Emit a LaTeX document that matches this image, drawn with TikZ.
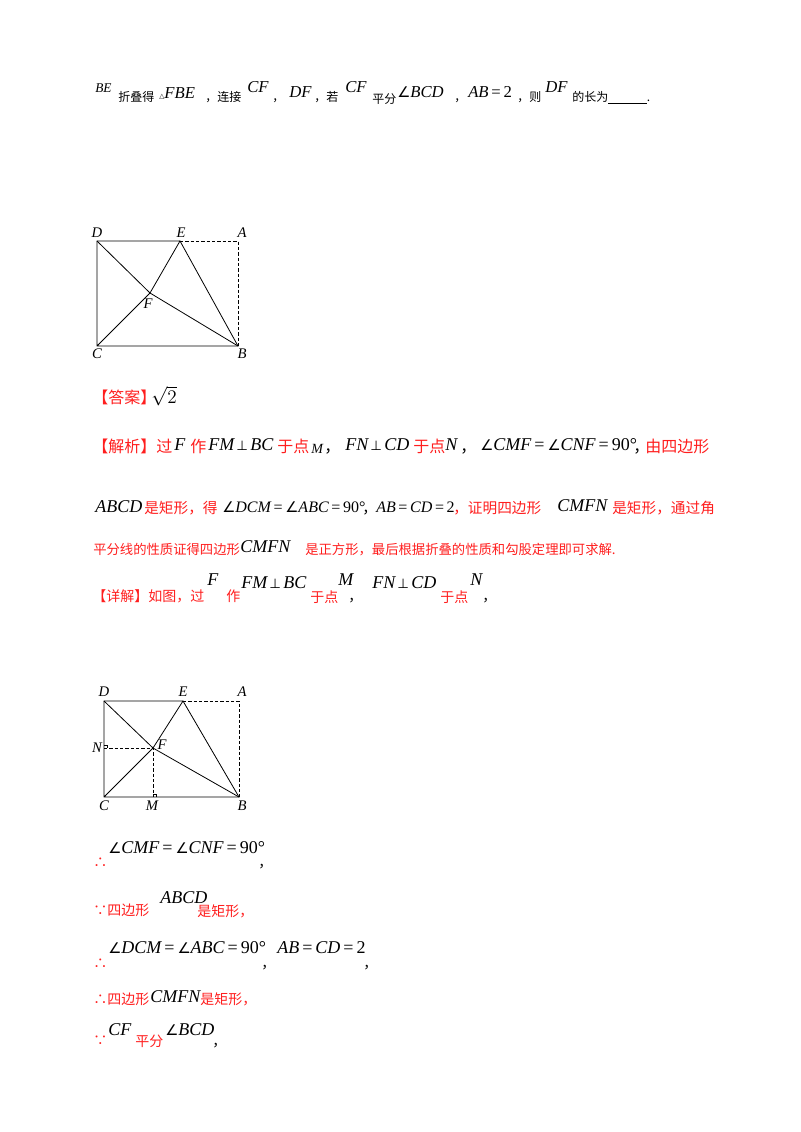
\documentclass[tikz,border=0pt]{standalone}
\usepackage{fontspec}
\setmainfont{Liberation Serif}
\newfontfamily\cjk{Noto Sans CJK SC}
\newfontfamily\dv{DejaVu Sans}
\newfontfamily\tnr{Liberation Serif}
\newcommand\ag{{\dv\upshape\fontsize{11}{11}\selectfont ∠}}
\newcommand\pp{{\dv\upshape\fontsize{10}{10}\selectfont\,⊥\,}}
\newcommand\sA{\fontsize{12}{14}\selectfont}
\newcommand\sL{\fontsize{11}{13}\selectfont}
\newcommand\sC{\fontsize{10}{12}\selectfont}
\newcommand\sT{\fontsize{9}{10}\selectfont}
\newcommand\T[4][black]{\node[txt,text=#1,name=t#2x#3] at (#2,#3) {#4};}
\newcommand\M[3]{\node[mth,name=m#1x#2] at (#1,#2) {#3};}
\definecolor{rd}{RGB}{255,30,30}
\tikzset{txt/.style={anchor=base west,inner sep=0pt,font=\cjk\fontsize{10.5}{12}\selectfont},
 mth/.style={anchor=base west,inner sep=0pt,font=\tnr\itshape\fontsize{13.5}{15}\selectfont},
 mthS/.style={mth,font=\tnr\itshape\fontsize{12.5}{14}\selectfont},
 mthT/.style={mth,font=\tnr\itshape\fontsize{12}{14}\selectfont},
 lbl/.style={inner sep=0pt,font=\tnr\itshape\fontsize{11}{12}\selectfont},
 ln/.style={line width=0.6pt},
 dsh/.style={line width=0.5pt,dashed,dash pattern=on 2.5pt off 1.5pt}}
\begin{document}
\begin{tikzpicture}[x=0.75pt,y=-0.75pt]
\useasboundingbox (0,0) rectangle (800,1132);
% line 1
\node[mth,name=be,font=\tnr\itshape\fontsize{10}{12}\selectfont] at (95,92) {BE};
\T{118}{101}{\sT 折叠得}
\node[mthS,name=fbe] at (159,98) {{\dv\upshape\fontsize{5}{6}\selectfont △}FBE};
\T{205}{101}{\sT ，连接}
\node[mthS,name=cf1] at (247,92) {CF};
\T{272}{101}{\sT ，}
\node[mthS,name=df1] at (289,97) {DF};
\T{314}{101}{\sT ，若}
\node[mthS,name=cf2] at (345,92) {CF};
\T{372}{103}{\sT 平分}
\node[mthS,name=bcd1] at (397,97) {\ag BCD};
\T{454}{101}{\sT ，}
\node[mthS,name=ab1] at (468,97) {AB\upshape\,=\,2};
\T{517}{101}{\sT ，则}
\node[mthS,name=df2] at (545,92) {DF};
\T{572}{101}{\sT 的长为\underline{\hspace{29pt}}.}
% answer
\T[rd]{92}{403}{\sA 【答案】}
\node[txt,name=ans] at (151,403) {\fontsize{14}{15}\selectfont$\sqrt{2}$};
% analysis line 1
\T[rd]{92}{452}{\sA 【解析】过}
\M{174}{450}{F}
\T[rd]{190}{452}{\sA 作}
\M{208}{450}{FM\pp BC}
\T[rd]{277}{452}{\sA 于点}
\node[mth,name=mm1,font=\tnr\itshape\fontsize{10.5}{12}\selectfont] at (311,453) {M};
\T{324}{452}{\sA ，}
\M{345}{450}{FN\pp CD}
\T[rd]{413}{452}{\sA 于点}
\M{445}{450}{N}
\T{460}{452}{\sA ，}
\M{480}{450}{\ag CMF\upshape\,=\,\ag\itshape CNF\upshape\,=\,90°}
\T{633}{452}{\sA ，}
\T[rd]{645}{452}{\sA 由四边形}
% analysis line 2
\M{95}{512}{ABCD}
\T[rd]{144}{513}{\sL 是矩形，得}
\node[mthT,name=dcm2] at (222,512) {\ag DCM\upshape\,=\,\ag\itshape ABC\upshape\,=\,90°};
\T{362}{513}{\sL ，}
\node[mthT,name=abcd2] at (376,512) {AB\upshape\,=\,\itshape CD\upshape\,=\,2};
\T[rd]{453}{513}{\sL ，证明四边形}
\M{557}{511}{CMFN}
\T[rd]{612}{513}{\sL 是矩形，通过角}
% line 3
\T[rd]{93}{554}{\sC 平分线的性质证得四边形}
\M{240}{552}{CMFN}
\T[rd]{305}{554}{\sC 是正方形，最后根据折叠的性质和勾股定理即可求解.}
% line 4
\T[rd]{92}{601}{【详解】如图，过}
\M{207}{585}{F}
\T[rd]{226}{601}{作}
\M{241}{588}{FM\pp BC}
\T[rd]{310}{602}{于点}
\M{338}{585}{M}
\T{348}{601}{，}
\M{372}{588}{FN\pp CD}
\T[rd]{440}{602}{于点}
\M{470}{585}{N}
\T{482}{601}{，}
% bottom
\T[rd]{93}{867}{∴}
\M{108}{853}{\ag CMF\upshape\,=\,\ag\itshape CNF\upshape\,=\,90°}
\T{258}{867}{，}
\T[rd]{93}{915}{∵四边形}
\M{160}{903}{ABCD}
\T[rd]{197}{916}{是矩形，}
\T[rd]{93}{968}{∴}
\M{108}{953}{\ag DCM\upshape\,=\,\ag\itshape ABC\upshape\,=\,90°}
\T{261}{968}{，}
\M{277}{953}{AB\upshape\,=\,\itshape CD\upshape\,=\,2}
\T{363}{968}{，}
\T[rd]{93}{1004}{∴四边形}
\M{150}{1002}{CMFN}
\T[rd]{200}{1004}{是矩形，}
\T[rd]{93}{1045}{∵}
\M{108}{1035}{CF}
\T[rd]{135}{1046}{平分}
\M{165}{1035}{\ag BCD}
\T{212}{1046}{，}
% figure 1
\coordinate (D1) at (97,241); \coordinate (A1) at (238,241);
\coordinate (C1) at (97,346); \coordinate (B1) at (238,346);
\coordinate (E1) at (180,241); \coordinate (F1) at (150,293);
\draw[ln] (E1)--(D1)--(C1)--(B1)--(E1)--(F1)--(C1);
\draw[ln] (D1)--(F1)--(B1);
\draw[dsh] (E1)--(A1)--(B1);
\node[lbl,name=lD1] at (97,233) {D};
\node[lbl,name=lE1] at (181,233) {E};
\node[lbl,name=lA1] at (242,233) {A};
\node[lbl,name=lF1] at (148,304) {F};
\node[lbl,name=lC1] at (97,354) {C};
\node[lbl,name=lB1] at (242,354) {B};
% figure 2
\coordinate (D2) at (104,701); \coordinate (A2) at (239,701);
\coordinate (C2) at (104,797); \coordinate (B2) at (239,797);
\coordinate (E2) at (183,701); \coordinate (F2) at (153,748);
\coordinate (N2) at (104,748); \coordinate (M2) at (153,797);
\draw[ln] (E2)--(D2)--(C2)--(B2)--(E2)--(F2)--(C2);
\draw[ln] (D2)--(F2)--(B2);
\draw[dsh] (E2)--(A2)--(B2);
\draw[dsh] (N2)--(F2)--(M2);
\draw[line width=0.4pt] (104,745)--(107,745)--(107,748);
\draw[line width=0.4pt] (153,794)--(156,794)--(156,797);
\node[lbl,name=lD2] at (104,692) {D};
\node[lbl,name=lE2] at (183,692) {E};
\node[lbl,name=lA2] at (242,692) {A};
\node[lbl,name=lN2] at (97,748) {N};
\node[lbl,name=lF2] at (162,745) {F};
\node[lbl,name=lC2] at (104,806) {C};
\node[lbl,name=lM2] at (152,806) {M};
\node[lbl,name=lB2] at (242,806) {B};
\end{tikzpicture}
\end{document}
